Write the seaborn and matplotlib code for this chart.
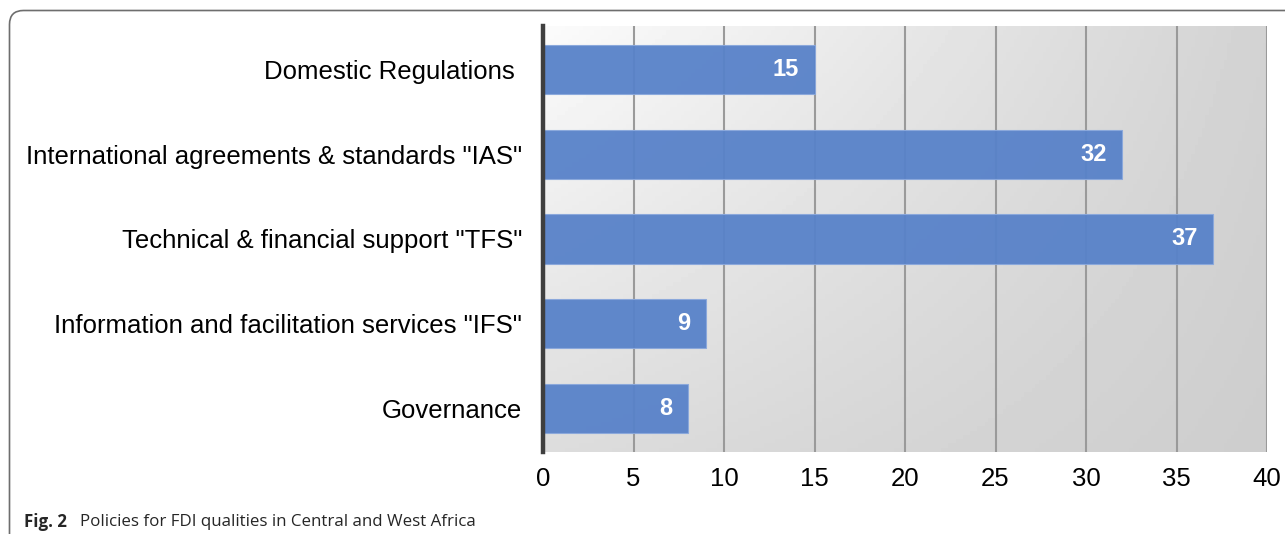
import matplotlib.pyplot as plt
import matplotlib.patches as mpatches
from matplotlib.path import Path
import numpy as np
import pandas as pd
import seaborn as sns

# data
policies = ['Domestic Regulations ', 'International agreements & standards "IAS"',
            'Technical & financial support "TFS"', 'Information and facilitation services "IFS"',
            'Governance']
counts = [15, 32, 37, 9, 8]
x_ticks = [0, 5, 10, 15, 20, 25, 30, 35, 40]

df = pd.DataFrame({'policy': policies, 'count': counts})

sns.set_theme(style='white')
plt.rcParams['font.family'] = ['Liberation Sans', 'DejaVu Sans']

fig = plt.figure(figsize=(12.85, 5.34), dpi=100)
ax = fig.add_axes([543 / 1285, 1 - 452 / 534, 724 / 1285, 426 / 534])

# gradient background (near white top-left -> grey bottom-right)
gx = np.linspace(0, 1, 200)
gy = np.linspace(0, 1, 100)
GX, GY = np.meshgrid(gx, gy)
shade = 0.985 - 0.16 * GX - 0.12 * GY + 0.1 * GX * GY
ax.imshow(shade, cmap='gray', vmin=0, vmax=1, aspect='auto', origin='upper',
          extent=[0, 1, 0, 1], transform=ax.transAxes, zorder=0)

sns.barplot(data=df, y='policy', x='count', orient='h', color='#5882c9',
            width=0.58, saturation=1, alpha=0.95, edgecolor='#8aa8dc',
            linewidth=0.8, ax=ax, zorder=3)

ax.set_xlim(0, 40)
ax.set_ylim(4.52, -0.52)
ax.set_xticks(x_ticks)
ax.set_xlabel('')
ax.set_ylabel('')
for x in x_ticks[1:]:
    ax.axvline(x, color='#9a9a9a', linewidth=1.5, zorder=2)

for i, v in enumerate(counts):
    ax.text(v - 0.85, i, str(v), color='white', fontweight='bold', fontsize=17,
            ha='right', va='center', zorder=4)

for s in ['top', 'right', 'bottom']:
    ax.spines[s].set_visible(False)
ax.spines['left'].set_color('#3f3f3f')
ax.spines['left'].set_linewidth(3.2)
ax.spines['left'].set_zorder(5)
ax.tick_params(axis='y', length=0, pad=15, labelsize=18.5, labelcolor='black')
ax.tick_params(axis='x', length=0, pad=11, labelsize=18.5, labelcolor='black')

# rounded frame at top-left of figure
W, H = 1285, 534
r = 14
x0, y0 = 9.5, 10.5
verts = [(W, y0), (x0 + r, y0), (x0, y0), (x0, y0 + r), (x0, H)]
verts = [(vx / W, 1 - vy / H) for vx, vy in verts]
codes = [Path.MOVETO, Path.LINETO, Path.CURVE3, Path.CURVE3, Path.LINETO]
frame = mpatches.PathPatch(Path(verts, codes), facecolor='none', edgecolor='#6e6e6e',
                           linewidth=1.2, transform=fig.transFigure)
fig.patches.append(frame)

fig.text(24 / W, 1 - 522 / H, 'Fig. 2', fontsize=12.2, fontweight='bold',
         family=['Open Sans', 'DejaVu Sans'], va='center', ha='left')
fig.text(80 / W, 1 - 522 / H, 'Policies for FDI qualities in Central and West Africa',
         fontsize=12.2, family=['Open Sans', 'DejaVu Sans'], va='center', ha='left')

fig.savefig('out.png', dpi=100)
